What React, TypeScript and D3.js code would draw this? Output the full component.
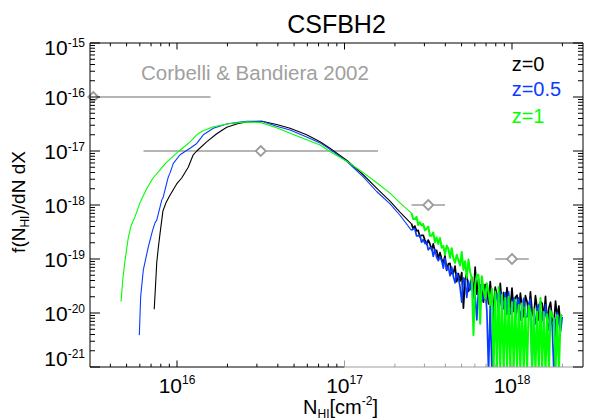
import React from "react";
import * as d3 from "d3";

// ---------- data ----------
const titleText = "CSFBH2";
const seriesNames = ["z=0", "z=0.5", "z=1"];
const seriesColors = ["#000000", "#0a3cff", "#00ff00"];

const xMajorExponents = [16, 17, 18];
const yMajorExponents = [-15, -16, -17, -18, -19, -20, -21];

// smooth part of each curve: log10(N_HI) and log10(f)
const blackBodyLogN = [15.864, 15.872, 15.879, 15.888, 15.899, 15.916, 15.934, 15.958, 15.998, 16.028, 16.067, 16.097, 16.118, 16.177, 16.237, 16.297, 16.366, 16.416, 16.507, 16.595, 16.675, 16.774, 16.854, 16.913, 17.013, 17.112, 17.202, 17.272, 17.331];
const blackBodyLogF = [-19.93, -19.48, -19.07, -18.80, -18.52, -18.11, -17.96, -17.82, -17.61, -17.50, -17.30, -17.07, -17.00, -16.83, -16.68, -16.56, -16.49, -16.46, -16.45, -16.51, -16.58, -16.70, -16.83, -16.95, -17.17, -17.44, -17.72, -17.93, -18.13];

const blueBodyLogN = [15.775, 15.783, 15.799, 15.829, 15.855, 15.869, 15.879, 15.909, 15.918, 15.948, 15.958, 15.978, 16.018, 16.078, 16.118, 16.157, 16.217, 16.297, 16.366, 16.416, 16.507, 16.595, 16.675, 16.774, 16.854, 16.913, 17.013, 17.112, 17.192, 17.272, 17.331];
const blueBodyLogF = [-20.41, -19.70, -19.20, -18.77, -18.46, -18.33, -18.28, -17.91, -17.85, -17.48, -17.41, -17.23, -17.07, -16.95, -16.86, -16.70, -16.58, -16.50, -16.47, -16.45, -16.45, -16.54, -16.61, -16.74, -16.85, -16.97, -17.19, -17.48, -17.75, -17.98, -18.19];

const greenBodyLogN = [15.666, 15.676, 15.690, 15.709, 15.725, 15.749, 15.779, 15.819, 15.857, 15.899, 15.934, 15.998, 16.036, 16.078, 16.118, 16.147, 16.217, 16.316, 16.416, 16.496, 16.595, 16.675, 16.774, 16.854, 16.913, 17.013, 17.112, 17.202, 17.272, 17.331];
const greenBodyLogF = [-19.79, -19.39, -19.02, -18.61, -18.39, -18.22, -17.96, -17.70, -17.50, -17.35, -17.22, -17.04, -16.94, -16.83, -16.70, -16.64, -16.55, -16.49, -16.46, -16.47, -16.57, -16.67, -16.79, -16.89, -17.01, -17.19, -17.40, -17.61, -17.78, -17.96];

// noisy high-column tail: shared histogram bins (log10 N) and per-series log10 f
// (-21.1 = empty bin, falls just below the axis)
const tailLogN = [
  17.40, 17.41, 17.42, 17.43, 17.44, 17.45, 17.46, 17.47, 17.48, 17.49,
  17.50, 17.51, 17.52, 17.53, 17.54, 17.55, 17.56, 17.57, 17.58, 17.59,
  17.60, 17.61, 17.62, 17.63, 17.64, 17.65, 17.66, 17.67, 17.68, 17.69,
  17.70, 17.71, 17.72, 17.73, 17.74, 17.75, 17.76, 17.77, 17.78, 17.79,
  17.80, 17.81, 17.82, 17.83, 17.84, 17.85, 17.86, 17.87, 17.88, 17.89,
  17.90, 17.91, 17.92, 17.93, 17.94, 17.95, 17.96, 17.97, 17.98, 17.99,
  18.00, 18.01, 18.02, 18.03, 18.04, 18.05, 18.06, 18.07, 18.08, 18.09,
  18.10, 18.11, 18.12, 18.13, 18.14, 18.15, 18.16, 18.17, 18.18, 18.19,
  18.20, 18.21, 18.22, 18.23, 18.24, 18.25, 18.26, 18.27, 18.28, 18.29,
  18.30,
];
const blackTailLogF = [
  -18.35, -18.44, -18.39, -18.48, -18.47, -18.59, -18.56, -18.56, -18.65, -18.73,
  -18.65, -18.72, -18.83, -18.72, -18.87, -18.84, -18.99, -18.88, -19.00, -19.07,
  -18.94, -19.21, -19.09, -19.08, -19.27, -19.26, -19.13, -19.42, -19.27, -19.41,
  -19.25, -19.91, -19.39, -19.26, -19.60, -19.54, -19.34, -19.70, -19.15, -19.65,
  -19.37, -19.70, -19.57, -19.80, -19.47, -19.55, -19.83, -19.42, -19.75, -19.88,
  -19.52, -19.68, -19.87, -19.45, -19.83, -19.62, -19.97, -19.53, -19.79, -19.90,
  -19.54, -19.97, -19.71, -19.67, -20.02, -19.63, -19.89, -20.07, -19.68, -19.79,
  -20.03, -19.61, -19.97, -20.08, -19.68, -19.92, -20.13, -19.79, -19.82, -20.08,
  -19.69, -20.20, -19.91, -19.80, -20.11, -20.19, -19.78, -20.08, -19.87, -20.26,
  null,
];
const blueTailLogF = [
  -18.47, -18.44, -18.44, -18.57, -18.57, -18.56, -18.69, -18.64, -18.71, -18.68,
  -18.83, -18.79, -18.79, -18.95, -18.82, -18.97, -19.03, -18.96, -19.03, -19.17,
  -18.99, -19.20, -19.14, -19.31, -19.15, -19.32, -19.44, -19.26, -19.34, -19.52,
  -19.80, -19.35, -19.39, -19.71, -19.41, -19.57, -19.37, -19.73, -19.67, -20.13,
  -19.57, -19.48, -19.79, -19.69, -19.56, -19.96, -21.1, -19.82, -21.1, -19.95,
  -19.73, -19.64, -20.03, -19.61, -19.95, -19.91, -19.62, -20.03, -19.61, -20.02,
  -19.93, -19.72, -20.15, -19.81, -19.72, -20.13, -19.92, -19.73, -20.09, -20.07,
  -19.83, -19.74, -21.1, -20.06, -20.20, -19.91, -19.84, -20.28, -19.99, -20.22,
  -19.85, -20.16, -20.32, -19.95, -20.24, -21.1, -20.18, -19.99, -20.18, -20.34,
  -20.07,
];
const greenTailLogF = [
  -18.15, -18.26, -18.26, -18.22, -18.37, -18.32, -18.38, -18.35, -18.47, -18.44,
  -18.40, -18.57, -18.57, -18.51, -18.69, -18.60, -18.72, -18.61, -18.79, -18.76,
  -18.92, -18.75, -18.81, -18.98, -18.80, -18.99, -19.07, -18.92, -19.02, -19.12,
  -18.87, -19.20, -19.04, -19.35, -19.01, -19.24, -19.36, -20.41, -19.47, -19.29,
  -19.29, -20.20, -19.32, -19.56, -19.73, -19.45, -19.62, -19.85, -19.55, -21.1,
  -19.60, -21.1, -19.52, -21.1, -19.66, -21.1, -19.72, -21.1, -19.70, -21.1,
  -19.80, -21.1, -19.76, -21.1, -19.85, -21.1, -19.82, -21.1, -19.90, -21.1,
  -19.86, -20.00, -21.1, -19.92, -21.1, -19.97, -21.1, -19.72, -21.1, -19.98,
  -21.1, -20.02, -21.1, -19.96, -20.05, -20.10, -21.1, -20.04, -21.1, -20.07,
  -20.03,
];

// Corbelli & Bandiera 2002 points (log10 values) with horizontal error bars
const cbLabel = "Corbelli & Bandiera 2002";
const cbLogN = [15.5, 16.5, 17.5, 18.0];
const cbLogNLo = [14.8, 15.8, 17.4, 17.9];
const cbLogNHi = [16.2, 17.2, 17.6, 18.1];
const cbLogF = [-16, -17, -18, -19];

// ---------- chart ----------
const FONT = "'Liberation Sans', Arial, Helvetica, sans-serif";
const GRAY = "#9c9c9c";

type Pt = [number, number | null];

function zip(a: number[], b: (number | null)[]): Pt[] {
  return a.map((v, i) => [v, b[i]] as Pt);
}

export default function App() {
  const left = 90, right = 583, top = 43, bottom = 367;
  const x = d3.scaleLog().domain([3.024e15, 2.654e18]).range([left, right]);
  const y = d3.scaleLog().domain([1e-21, 1e-15]).range([bottom, top]);

  const line = d3
    .line<Pt>()
    .defined((d) => d[1] !== null)
    .x((d) => x(Math.pow(10, d[0])))
    .y((d) => y(Math.pow(10, d[1] as number)));

  const tails: Pt[][] = [
    zip(tailLogN, blackTailLogF),
    zip(tailLogN, blueTailLogF),
    zip(tailLogN, greenTailLogF),
  ];
  const bodies: Pt[][] = [
    [...zip(blackBodyLogN, blackBodyLogF), tails[0][0]],
    [...zip(blueBodyLogN, blueBodyLogF), tails[1][0]],
    [...zip(greenBodyLogN, greenBodyLogF), tails[2][0]],
  ];
  const tailWidths = [1.7, 1.7, 2.0];

  const isMajor = (t: number) => {
    const l = Math.log10(t);
    return Math.abs(l - Math.round(l)) < 1e-6;
  };
  const xTicks = x.ticks();
  const yTicks = y.ticks();
  const x17 = x(1e17);

  return (
    <svg
      width={590}
      height={420}
      style={{ position: "absolute", left: 0, top: 0, background: "#fff" }}
      fontFamily={FONT}
    >
      <defs>
        <clipPath id="plotClip">
          <rect x={left} y={top} width={right - left} height={bottom - top} />
        </clipPath>
      </defs>
      <rect x={0} y={0} width={590} height={420} fill="#fff" />

      {/* Corbelli & Bandiera error bars */}
      <g clipPath="url(#plotClip)">
        {cbLogN.map((_, i) => (
          <line
            key={"eb" + i}
            x1={x(Math.pow(10, cbLogNLo[i]))}
            x2={x(Math.pow(10, cbLogNHi[i]))}
            y1={y(Math.pow(10, cbLogF[i]))}
            y2={y(Math.pow(10, cbLogF[i]))}
            stroke={GRAY}
            strokeWidth={1.6}
          />
        ))}
      </g>

      {/* simulation curves */}
      <g clipPath="url(#plotClip)" fill="none" strokeLinejoin="round">
        {[0, 1, 2].map((i) => (
          <g key={"s" + i}>
            <path d={line(bodies[i]) || ""} stroke={seriesColors[i]} strokeWidth={1.1} />
            <path d={line(tails[i]) || ""} stroke={seriesColors[i]} strokeWidth={tailWidths[i]} />
          </g>
        ))}
      </g>

      {/* diamonds */}
      {cbLogN.map((n, i) => {
        const cx = x(Math.pow(10, n));
        const cy = y(Math.pow(10, cbLogF[i]));
        const r = 5;
        return (
          <path
            key={"dm" + i}
            d={`M${cx},${cy - r}L${cx + r},${cy}L${cx},${cy + r}L${cx - r},${cy}Z`}
            fill="#fff"
            stroke={GRAY}
            strokeWidth={1.8}
          />
        );
      })}

      {/* axes box */}
      <line x1={left} x2={right} y1={top} y2={top} stroke="#000" strokeWidth={1} />
      <line x1={left} x2={left} y1={top} y2={bottom} stroke="#000" strokeWidth={1} />
      <line x1={right} x2={right} y1={top} y2={bottom} stroke="#000" strokeWidth={1} />
      <line x1={left} x2={x17} y1={bottom} y2={bottom} stroke="#000" strokeWidth={1} />
      <line x1={x17} x2={right} y1={bottom} y2={bottom} stroke={GRAY} strokeWidth={1} />

      {/* x ticks */}
      {xTicks.map((t, i) => {
        const px = x(t);
        const len = isMajor(t) ? 6.5 : 3.3;
        const col = t >= 0.999e17 ? GRAY : "#000";
        return (
          <g key={"xt" + i}>
            <line x1={px} x2={px} y1={bottom} y2={bottom - len} stroke={col} strokeWidth={1} />
            <line x1={px} x2={px} y1={top} y2={top + len} stroke="#000" strokeWidth={1} />
          </g>
        );
      })}
      {/* y ticks */}
      {yTicks.map((t, i) => {
        const py = y(t);
        const len = isMajor(t) ? 10 : 5;
        return (
          <g key={"yt" + i}>
            <line x1={left} x2={left + len} y1={py} y2={py} stroke="#000" strokeWidth={1} />
            <line x1={right} x2={right - len} y1={py} y2={py} stroke="#000" strokeWidth={1} />
          </g>
        );
      })}

      {/* x tick labels */}
      {xMajorExponents.map((e) => (
        <text key={"xl" + e} x={x(Math.pow(10, e))} y={393} textAnchor="middle" fontSize={21} fill="#000">
          10
          <tspan dy={-9} fontSize={12}>
            {String(e)}
          </tspan>
        </text>
      ))}
      {/* y tick labels */}
      {yMajorExponents.map((e, i) => {
        let base = y(Math.pow(10, e)) + 8;
        if (i === 0) base = 55;
        if (i === yMajorExponents.length - 1) base = 366;
        return (
          <text key={"yl" + e} x={85} y={base} textAnchor="end" fontSize={21} fill="#000">
            10
            <tspan dy={-8} fontSize={12}>
              {String(e)}
            </tspan>
          </text>
        );
      })}

      {/* titles */}
      <text x={(left + right) / 2} y={33} textAnchor="middle" fontSize={25} fill="#000">
        {titleText}
      </text>
      <text x={340.5} y={414} textAnchor="middle" fontSize={20} fill="#000">
        N
        <tspan dy={4} fontSize={12}>HI</tspan>
        <tspan dy={-4}>[cm</tspan>
        <tspan dy={-9} fontSize={12}>-2</tspan>
        <tspan dy={9}>]</tspan>
      </text>
      <text transform="translate(25,202) rotate(-90)" textAnchor="middle" fontSize={19} fill="#000">
        f(N
        <tspan dy={4} fontSize={12}>HI</tspan>
        <tspan dy={-4}>)/dN dX</tspan>
      </text>

      {/* annotation and legend */}
      <text x={141} y={80} fontSize={20.5} fill="#a0a0a0">
        {cbLabel}
      </text>
      {seriesNames.map((n, i) => (
        <text key={"lg" + i} x={511.7} y={[71, 96, 123][i]} fontSize={20} fill={seriesColors[i]}>
          {n}
        </text>
      ))}
    </svg>
  );
}
